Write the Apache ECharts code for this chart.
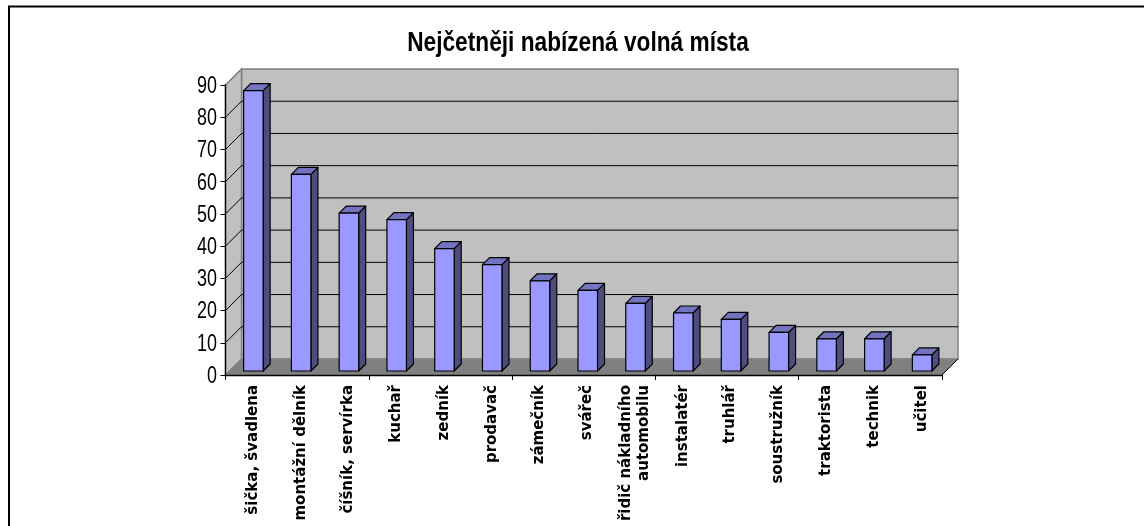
<!DOCTYPE html>
<html>
<head>
<meta charset="utf-8">
<script src="https://cdn.jsdelivr.net/npm/echarts@6/dist/echarts.min.js"></script>
<style>
  html, body { margin: 0; padding: 0; background: #fff; }
  #chart { width: 1144px; height: 526px; }
</style>
</head>
<body>
<div id="chart"></div>
<script>
const titleText = 'Nejčetněji nabízená volná místa'
const professions = ['šička, švadlena', 'montážní dělník', 'číšník, servírka', 'kuchař', 'zedník', 'prodavač', 'zámečník', 'svářeč', 'řidič nákladního\nautomobilu', 'instalatér', 'truhlář', 'soustružník', 'traktorista', 'technik', 'učitel']
const vacancies = [87, 61, 49, 47, 38, 33, 28, 25, 21, 18, 16, 12, 10, 10, 5]
const yTicks = [0, 10, 20, 30, 40, 50, 60, 70, 80, 90]

const DEPTH = 16      // wall depth in px
const BAR_W = 19.5
const BAR_DEPTH = 7
const BAR_SHIFT = 4   // bars stand a little behind the front edge

const chart = echarts.init(document.getElementById('chart'))

// back wall, side wall, floor
function renderWalls(params, api) {
  const cs = params.coordSys
  const l = cs.x, r = cs.x + cs.width, t = cs.y, b = cs.y + cs.height
  const wall = { fill: '#c0c0c0', stroke: '#808080', lineWidth: 1.5 }
  return {
    type: 'group',
    children: [
      { type: 'polygon', shape: { points: [[l + DEPTH, t - DEPTH], [r + DEPTH, t - DEPTH], [r + DEPTH, b - DEPTH], [l + DEPTH, b - DEPTH]] }, style: wall },
      { type: 'polygon', shape: { points: [[l, t], [l + DEPTH, t - DEPTH], [l + DEPTH, b - DEPTH], [l, b]] }, style: wall },
      { type: 'polygon', shape: { points: [[l, b], [l + DEPTH, b - DEPTH], [r + DEPTH, b - DEPTH], [r, b]] }, style: { fill: '#808080', stroke: '#808080' } },
      { type: 'line', shape: { x1: r, y1: b, x2: r + DEPTH, y2: b - DEPTH }, style: { stroke: '#000', lineWidth: 1 } }
    ]
  }
}

// gridline on the back wall, diagonal on the side wall, squeezed tick label
function renderGrid(params, api) {
  const tick = api.value(0)
  const cs = params.coordSys
  const y = api.coord([0, tick])[1]
  const children = [
    {
      type: 'text',
      x: cs.x - 8.5,
      y: y + 1.5,
      scaleX: 0.78,
      style: { text: String(tick), fill: '#000', align: 'right', verticalAlign: 'middle', font: '23px "Liberation Sans"' }
    }
  ]
  if (tick === 0) return { type: 'group', children: children }
  const color = tick === 90 ? '#808080' : '#000'
  children.push({ type: 'line', shape: { x1: cs.x, y1: y, x2: cs.x + DEPTH, y2: y - DEPTH }, style: { stroke: color, lineWidth: 1 } })
  if (tick !== 90) {
    children.push({ type: 'line', shape: { x1: cs.x + DEPTH, y1: y - DEPTH, x2: cs.x + cs.width + DEPTH, y2: y - DEPTH }, style: { stroke: '#000', lineWidth: 1 } })
  }
  return { type: 'group', children: children }
}

// bar with its top and side faces, category label under it
function renderBar(params, api) {
  const idx = api.value(0)
  const base = api.coord([idx, 0])
  const top = api.coord([idx, api.value(1)])
  const x0 = base[0] - BAR_W / 2 + BAR_SHIFT
  const x1 = x0 + BAR_W
  const yb = base[1] - BAR_SHIFT
  const yt = top[1] - BAR_SHIFT
  const edge = { stroke: '#000', lineWidth: 1.2, lineJoin: 'round' }
  return {
    type: 'group',
    children: [
      { type: 'polygon', shape: { points: [[x1, yt], [x1 + BAR_DEPTH, yt - BAR_DEPTH], [x1 + BAR_DEPTH, yb - BAR_DEPTH], [x1, yb]] }, style: Object.assign({ fill: '#4d4d80' }, edge) },
      { type: 'polygon', shape: { points: [[x0, yt], [x0 + BAR_DEPTH, yt - BAR_DEPTH], [x1 + BAR_DEPTH, yt - BAR_DEPTH], [x1, yt]] }, style: Object.assign({ fill: '#7373bf' }, edge) },
      { type: 'rect', shape: { x: x0, y: yt, width: BAR_W, height: yb - yt }, style: Object.assign({ fill: '#9999ff' }, edge) },
      {
        type: 'text',
        x: base[0] + 3.5,
        y: base[1] + 10,
        rotation: Math.PI / 2,
        style: { text: professions[idx], fill: '#000', align: 'right', verticalAlign: 'middle', lineHeight: 18, font: 'bold 15px "DejaVu Sans"' }
      }
    ]
  }
}

chart.setOption({
  backgroundColor: '#fff',
  animation: false,
  graphic: [
    // frame runs off the right and bottom of the picture
    { type: 'rect', shape: { x: 9, y: 6.5, width: 1200, height: 600 }, style: { fill: 'none', stroke: '#000', lineWidth: 2 }, silent: true },
    {
      type: 'text',
      x: 578,
      y: 44,
      scaleX: 0.84,
      silent: true,
      style: { text: titleText, fill: '#000', align: 'center', verticalAlign: 'middle', font: 'bold 27px "Liberation Sans"' }
    }
  ],
  grid: { left: 225.5, right: 202, top: 85, bottom: 151 },
  xAxis: {
    type: 'category',
    data: professions,
    z: 5,
    axisLine: { lineStyle: { color: '#000', width: 1.3 } },
    axisTick: { show: true, alignWithLabel: false, length: 5, lineStyle: { color: '#000' } },
    axisLabel: { show: false }
  },
  yAxis: {
    type: 'value',
    min: 0,
    max: 90,
    interval: 10,
    z: 5,
    splitLine: { show: false },
    axisLine: { show: true, lineStyle: { color: '#000', width: 1.3 } },
    axisTick: { show: true, length: 5, lineStyle: { color: '#000' } },
    axisLabel: { show: false }
  },
  series: [
    { type: 'custom', name: 'walls', data: [[0]], z: 1, silent: true, renderItem: renderWalls },
    { type: 'custom', name: 'grid', data: yTicks.map(t => [t]), z: 2, silent: true, renderItem: renderGrid },
    {
      type: 'custom',
      name: 'vacancies',
      z: 3,
      encode: { x: 0, y: 1 },
      data: vacancies.map((v, i) => [i, v]),
      renderItem: renderBar
    }
  ]
})
</script>
</body>
</html>
